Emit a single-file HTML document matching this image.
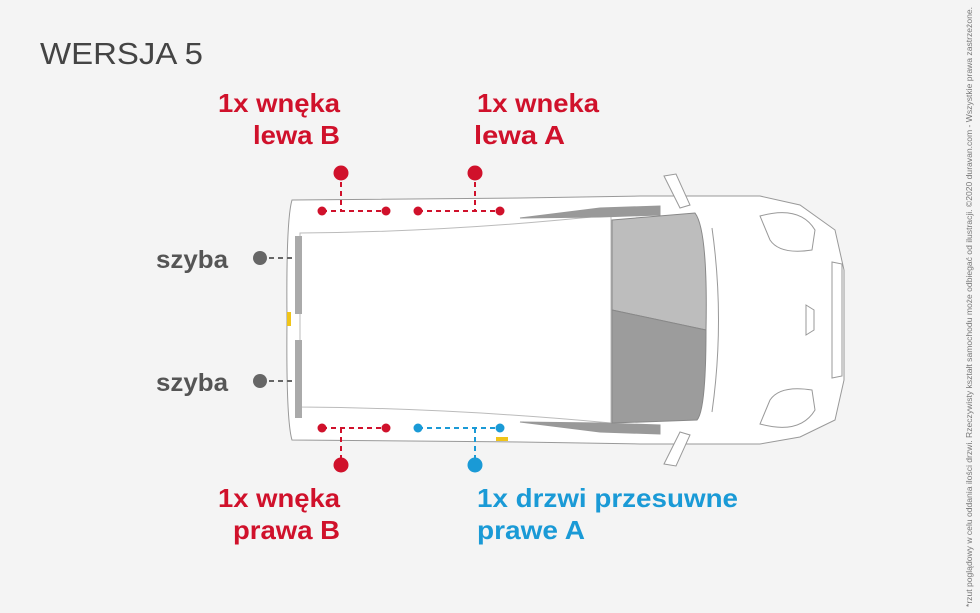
<!DOCTYPE html>
<html><head><meta charset="utf-8"><style>
body{margin:0;width:980px;height:613px;background:#f4f4f4;overflow:hidden}
svg{display:block}
text{font-family:"Liberation Sans",sans-serif}
</style></head><body>
<svg width="980" height="613" viewBox="0 0 980 613">
<text x="40" y="64" font-size="31" fill="#444" textLength="163" lengthAdjust="spacingAndGlyphs">WERSJA 5</text>
<g font-size="26" font-weight="bold" fill="#d0112b">
<text x="218" y="112" textLength="122" lengthAdjust="spacingAndGlyphs">1x wnęka</text>
<text x="253" y="144" textLength="87" lengthAdjust="spacingAndGlyphs">lewa B</text>
<text x="477" y="112" textLength="122" lengthAdjust="spacingAndGlyphs">1x wneka</text>
<text x="474" y="144" textLength="91" lengthAdjust="spacingAndGlyphs">lewa A</text>
<text x="218" y="507" textLength="122" lengthAdjust="spacingAndGlyphs">1x wnęka</text>
<text x="233" y="539" textLength="107" lengthAdjust="spacingAndGlyphs">prawa B</text>
</g>
<g font-size="26" font-weight="bold" fill="#1a9ad6">
<text x="477" y="507" textLength="261" lengthAdjust="spacingAndGlyphs">1x drzwi przesuwne</text>
<text x="477" y="539" textLength="108" lengthAdjust="spacingAndGlyphs">prawe A</text>
</g>
<g font-size="25" font-weight="bold" fill="#555">
<text x="156" y="268" textLength="72" lengthAdjust="spacingAndGlyphs">szyba</text>
<text x="156" y="391" textLength="72" lengthAdjust="spacingAndGlyphs">szyba</text>
</g>
<text transform="translate(972,607) rotate(-90)" font-size="8.5" fill="#777" textLength="600" lengthAdjust="spacingAndGlyphs">*rzut poglądowy w celu oddania ilości drzwi. Rzeczywisty kształt samochodu może odbiegać od ilustracji. ©2020 duravan.com - Wszystkie prawa zastrzeżone.</text>

<g stroke="#999" stroke-width="1" fill="#fff">
<path d="M292,200 L520,198 L640,196 L760,196 L800,205 L835,230 L844,270 L844,380 L835,420 L800,437 L760,444 L640,444 L520,442 L292,440 Q286,420 287,320 Q286,220 292,200Z"/>
<path d="M300,233 Q450,232 611,215 L611,423 Q450,408 300,407 Z" stroke="#bbb"/>
<path d="M520,218 L600,208 L660,206 L660,215 L600,217 Z" fill="#999"/>
<path d="M520,422 L600,432 L660,434 L660,425 L600,423 Z" fill="#999"/>
<path d="M664,176 L676,174 L690,205 L680,208 Z"/>
<path d="M664,464 L676,466 L690,435 L680,432 Z"/>
<path d="M760,216 Q800,205 815,230 L812,250 Q780,255 770,240 Z"/>
<path d="M760,424 Q800,435 815,410 L812,390 Q780,385 770,400 Z"/>
<path d="M832,262 L842,264 L842,376 L832,378 Z"/>
<path d="M712,228 Q725,320 712,412" fill="none"/>
<path d="M806,305 L814,310 L814,330 L806,335 Z"/>
</g>
<path d="M612,220 L695,213 Q708,230 706,330 L612,310 Z" fill="#bdbdbd" stroke="#888"/>
<path d="M612,310 L706,330 Q706,410 697,420 L612,423 Z" fill="#9c9c9c" stroke="#888"/>
<rect x="295" y="236" width="7" height="78" fill="#aaa"/>
<rect x="295" y="340" width="7" height="78" fill="#aaa"/>
<rect x="287" y="312" width="4" height="14" fill="#f0c419"/>
<rect x="496" y="437" width="12" height="4" fill="#f0c419"/>

<g stroke-width="2" stroke-dasharray="5,4" fill="none">
<path d="M322,211 H386 M418,211 H500 M341,173 V211 M475,173 V211 M322,428 H386 M341,428 V465" stroke="#d0112b"/>
<path d="M418,428 H500 M475,428 V465" stroke="#1a9ad6"/>
<path d="M260,258 H292 M260,381 H292" stroke="#666"/>
</g>
<g fill="#d0112b">
<circle cx="322" cy="211" r="4.5"/><circle cx="386" cy="211" r="4.5"/><circle cx="418" cy="211" r="4.5"/><circle cx="500" cy="211" r="4.5"/>
<circle cx="322" cy="428" r="4.5"/><circle cx="386" cy="428" r="4.5"/>
<circle cx="341" cy="173" r="7.5"/><circle cx="475" cy="173" r="7.5"/><circle cx="341" cy="465" r="7.5"/>
</g>
<g fill="#1a9ad6"><circle cx="418" cy="428" r="4.5"/><circle cx="500" cy="428" r="4.5"/><circle cx="475" cy="465" r="7.5"/></g>
<g fill="#666"><circle cx="260" cy="258" r="7"/><circle cx="260" cy="381" r="7"/></g>
</svg>
</body></html>
